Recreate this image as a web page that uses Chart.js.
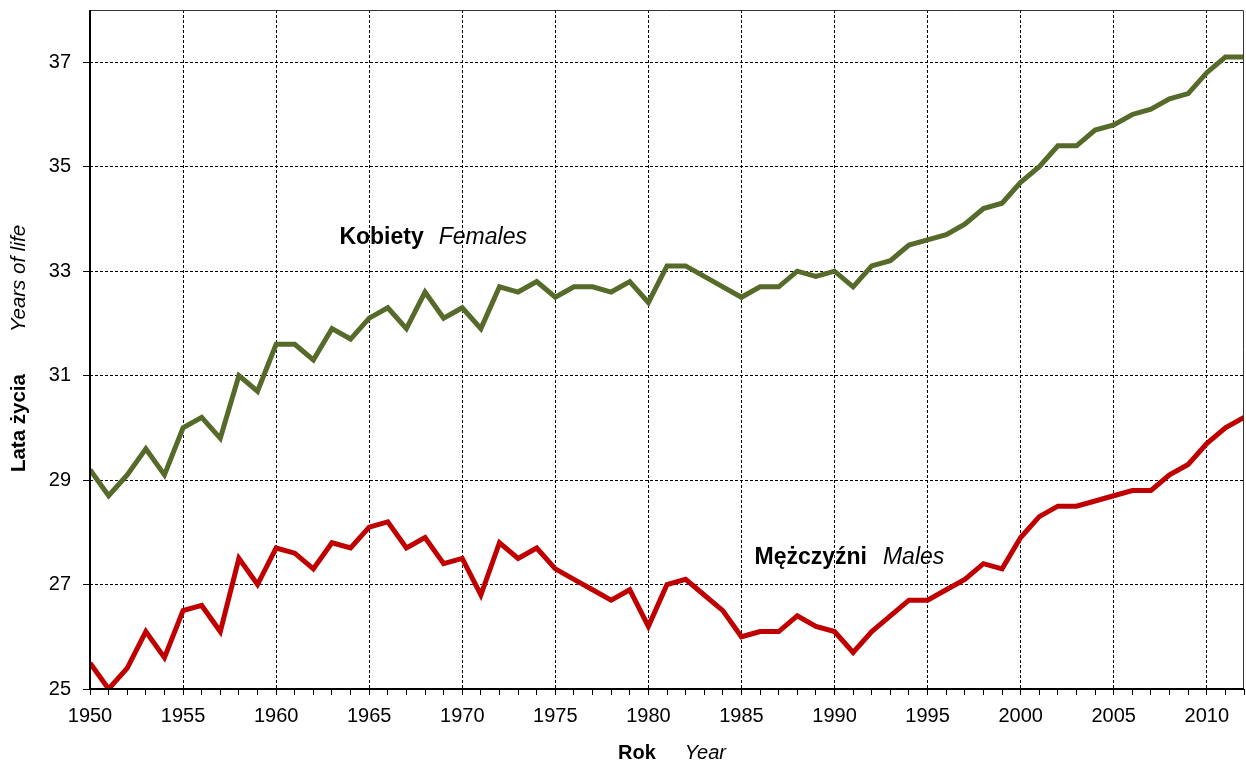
<!DOCTYPE html>
<html>
<head>
<meta charset="utf-8">
<script src="https://cdn.jsdelivr.net/npm/chart.js@4.4.1/dist/chart.umd.min.js"></script>
<style>
html,body{margin:0;padding:0;background:#fff;}
#wrap{width:1246px;height:764px;position:relative;}
</style>
</head>
<body>
<div id="wrap"><canvas id="c" width="1246" height="764"></canvas></div>
<script>
const years = [1950,1951,1952,1953,1954,1955,1956,1957,1958,1959,
  1960,1961,1962,1963,1964,1965,1966,1967,1968,1969,
  1970,1971,1972,1973,1974,1975,1976,1977,1978,1979,
  1980,1981,1982,1983,1984,1985,1986,1987,1988,1989,
  1990,1991,1992,1993,1994,1995,1996,1997,1998,1999,
  2000,2001,2002,2003,2004,2005,2006,2007,2008,2009,
  2010,2011,2012];
const females = [29.2,28.7,29.1,29.6,29.1,30.0,30.2,29.8,31.0,30.7,
  31.6,31.6,31.3,31.9,31.7,32.1,32.3,31.9,32.6,32.1,
  32.3,31.9,32.7,32.6,32.8,32.5,32.7,32.7,32.6,32.8,
  32.4,33.1,33.1,32.9,32.7,32.5,32.7,32.7,33.0,32.9,
  33.0,32.7,33.1,33.2,33.5,33.6,33.7,33.9,34.2,34.3,
  34.7,35.0,35.4,35.4,35.7,35.8,36.0,36.1,36.3,36.4,
  36.8,37.1,37.1];
const males = [25.5,25.0,25.4,26.1,25.6,26.5,26.6,26.1,27.5,27.0,
  27.7,27.6,27.3,27.8,27.7,28.1,28.2,27.7,27.9,27.4,
  27.5,26.8,27.8,27.5,27.7,27.3,27.1,26.9,26.7,26.9,
  26.2,27.0,27.1,26.8,26.5,26.0,26.1,26.1,26.4,26.2,
  26.1,25.7,26.1,26.4,26.7,26.7,26.9,27.1,27.4,27.3,
  27.9,28.3,28.5,28.5,28.6,28.7,28.8,28.8,29.1,29.3,
  29.7,30.0,30.2];
const xTickLabels = [1950,1955,1960,1965,1970,1975,1980,1985,1990,1995,2000,2005,2010];
const yTickLabels = [25,27,29,31,33,35,37];

const FONT = "'Liberation Sans', Arial, Helvetica, sans-serif";

const seriesLabels = [
  {bold:'Kobiety', italic:'Females', x:1963.4, y:33.65, gap:15},
  {bold:'Mężczyźni', italic:'Males', x:1985.7, y:27.52, gap:16}
];
const xTitle = {bold:'Rok', italic:'Year', gap:29};
const yTitle = {bold:'Lata życia', italic:'Years of life', gap:42};

function drawPair(ctx, item, x, y, size, centered) {
  ctx.font = 'bold ' + size + 'px ' + FONT;
  const wb = ctx.measureText(item.bold).width;
  ctx.font = 'italic ' + size + 'px ' + FONT;
  const wi = ctx.measureText(item.italic).width;
  let start = centered ? x - (wb + item.gap + wi) / 2 : x;
  ctx.textAlign = 'left';
  ctx.textBaseline = 'middle';
  ctx.fillStyle = '#000';
  ctx.font = 'bold ' + size + 'px ' + FONT;
  ctx.fillText(item.bold, start, y);
  ctx.font = 'italic ' + size + 'px ' + FONT;
  ctx.fillText(item.italic, start + wb + item.gap, y);
}

const textPlugin = {
  id: 'textPlugin',
  afterDraw(chart) {
    const ctx = chart.ctx;
    const ca = chart.chartArea;
    const xs = chart.scales.x, ys = chart.scales.y;
    ctx.save();
    // frame top/right
    ctx.strokeStyle = '#333';
    ctx.lineWidth = 1;
    ctx.beginPath();
    ctx.moveTo(ca.left, ca.top + 0.5);
    ctx.lineTo(ca.right - 0.5, ca.top + 0.5);
    ctx.lineTo(ca.right - 0.5, ca.bottom);
    ctx.stroke();
    // axes (solid)
    ctx.strokeStyle = '#000';
    ctx.lineWidth = 2;
    ctx.beginPath();
    ctx.moveTo(ca.left, ca.top);
    ctx.lineTo(ca.left, ca.bottom);
    ctx.lineTo(ca.right, ca.bottom);
    ctx.stroke();
    // series labels
    seriesLabels.forEach(s => {
      drawPair(ctx, s, xs.getPixelForValue(s.x), ys.getPixelForValue(s.y), 23, false);
    });
    // x title
    drawPair(ctx, xTitle, (ca.left + ca.right) / 2 + 5, 753, 20, true);
    // y title
    ctx.translate(19, (ca.top + ca.bottom) / 2 - 1);
    ctx.rotate(-Math.PI / 2);
    drawPair(ctx, yTitle, 0, 0, 20.5, true);
    ctx.restore();
  }
};

new Chart(document.getElementById('c'), {
  type: 'line',
  data: {
    datasets: [
      {
        label: 'Kobiety Females',
        data: years.map((y, i) => ({x: y, y: females[i]})),
        borderColor: '#566A2A',
        borderWidth: 5,
        pointRadius: 0,
        tension: 0,
        fill: false
      },
      {
        label: 'Mężczyźni Males',
        data: years.map((y, i) => ({x: y, y: males[i]})),
        borderColor: '#C00000',
        borderWidth: 5,
        pointRadius: 0,
        tension: 0,
        fill: false
      }
    ]
  },
  options: {
    responsive: false,
    animation: false,
    devicePixelRatio: 1,
    layout: {padding: {top: 10, right: 2, left: 0, bottom: 0}},
    plugins: {legend: {display: false}, tooltip: {enabled: false}, title: {display: false}},
    scales: {
      x: {
        type: 'linear',
        min: 1950,
        max: 2012,
        afterFit(scale) { scale.height = 75; scale.paddingLeft = 0; scale.paddingRight = 0; },
        border: {display: false, dash: [3, 2]},
        grid: {
          color: ctx => (ctx.tick && xTickLabels.includes(ctx.tick.value) && ctx.tick.value !== 1950 ? '#000' : 'rgba(0,0,0,0)'),
          tickColor: '#000',
          lineWidth: 1,
          tickBorderDash: [],
          tickLength: 6,
          drawOnChartArea: true
        },
        ticks: {
          stepSize: 1,
          autoSkip: false,
          maxRotation: 0,
          minRotation: 0,
          padding: 9,
          color: '#000',
          font: {family: FONT, size: 20},
          callback: v => (xTickLabels.includes(v) ? String(v) : '')
        }
      },
      y: {
        min: 25,
        max: 38,
        afterFit(scale) { scale.width = 90; scale.paddingTop = 0; scale.paddingBottom = 0; },
        border: {display: false, dash: [3, 2]},
        grid: {
          color: ctx => (ctx.tick && ctx.tick.value !== 25 ? '#000' : 'rgba(0,0,0,0)'),
          tickColor: '#000',
          lineWidth: 1,
          tickBorderDash: [],
          tickLength: 7
        },
        ticks: {
          stepSize: 1,
          autoSkip: false,
          padding: 12,
          color: '#000',
          font: {family: FONT, size: 20},
          callback: v => (yTickLabels.includes(v) ? String(v) : null)
        }
      }
    }
  },
  plugins: [textPlugin]
});
</script>
</body>
</html>
